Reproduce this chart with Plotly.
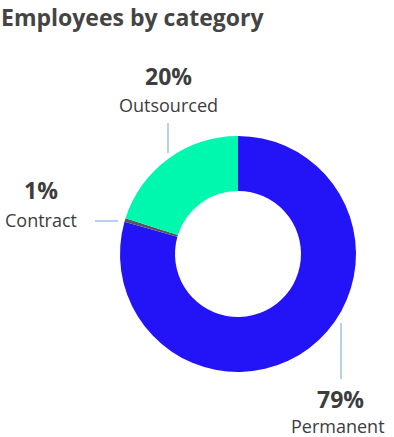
import plotly.graph_objects as go

categories = ["Permanent", "Contract", "Outsourced"]
values = [79.4, 0.5, 20.1]
pct_labels = ["79%", "1%", "20%"]
colors = ["#2314F8", "#55555F", "#00F8AE"]

W, H = 394, 437
cx, cy, R = 238, 254, 118

# label layout (pixel positions of label centres and leader lines)
label_pos = {
    "Outsourced": dict(pct=(168, 76), name=(168, 105), line=((168, 123), (168, 153))),
    "Contract": dict(pct=(41, 190), name=(41, 220), line=((95, 221), (118, 221))),
    "Permanent": dict(pct=(340, 399), name=(338, 426), line=((341, 323), (341, 379))),
}

def px(x):
    return x / W

def py(y):
    return 1 - y / H

fig = go.Figure(go.Pie(
    labels=categories,
    values=values,
    marker=dict(colors=colors, line=dict(width=0)),
    hole=0.534,
    sort=False,
    direction="clockwise",
    rotation=0,
    textinfo="none",
    showlegend=False,
    domain=dict(x=[px(cx - R), px(cx + R)], y=[py(cy + R), py(cy - R)]),
))

annotations = [dict(
    text="<b>Employees by category</b>", x=0, y=1, xref="paper", yref="paper",
    xanchor="left", yanchor="top", showarrow=False, borderpad=0,
    font=dict(family="Open Sans", size=23, color="#444444"),
)]
shapes = []
for cat, pct in zip(categories, pct_labels):
    lp = label_pos[cat]
    annotations.append(dict(
        text=f"<b>{pct}</b>", x=px(lp["pct"][0]), y=py(lp["pct"][1]),
        xref="paper", yref="paper", xanchor="center", yanchor="middle", showarrow=False,
        font=dict(family="Open Sans", size=23, color="#3d3d3d"),
    ))
    annotations.append(dict(
        text=cat, x=px(lp["name"][0]), y=py(lp["name"][1]),
        xref="paper", yref="paper", xanchor="center", yanchor="middle", showarrow=False,
        borderpad=0,
        font=dict(family="Open Sans", size=18, color="#3d3d3d"),
    ))
    (x0, y0), (x1, y1) = lp["line"]
    shapes.append(dict(type="line", xref="paper", yref="paper",
                       x0=px(x0), y0=py(y0), x1=px(x1), y1=py(y1),
                       line=dict(color="#9cc3e3", width=1.5)))

fig.update_layout(
    width=W, height=H,
    margin=dict(l=0, r=0, t=0, b=0),
    paper_bgcolor="white", plot_bgcolor="white",
    annotations=annotations, shapes=shapes,
)

fig.write_html(
    "out.html",
    config={"displayModeBar": False},
    post_script="document.body.style.margin='0';document.body.style.overflow='hidden';",
)
